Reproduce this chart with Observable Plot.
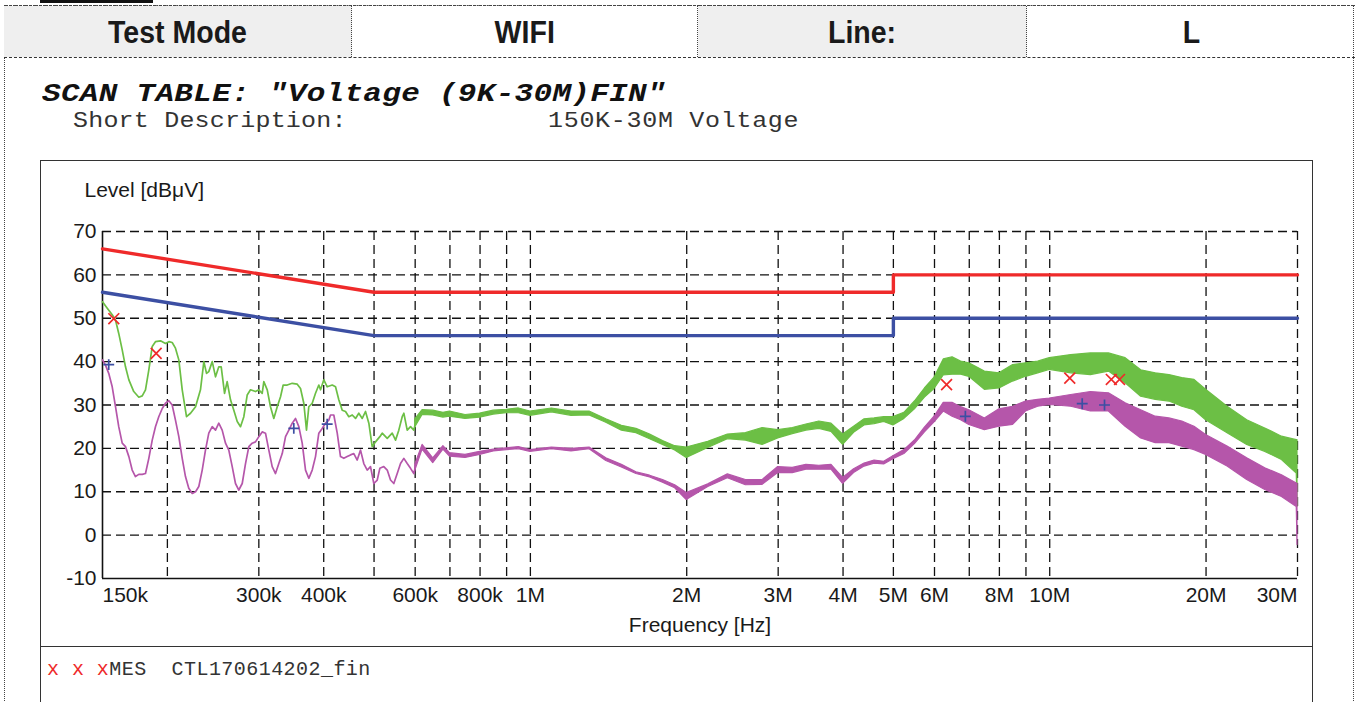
<!DOCTYPE html>
<html>
<head>
<meta charset="utf-8">
<script src="https://cdn.jsdelivr.net/npm/d3@7"></script>
<script src="https://cdn.jsdelivr.net/npm/@observablehq/plot@0.6"></script>
<style>
  body { margin:0; width:1360px; height:702px; overflow:hidden; background:#fff; position:relative;
         font-family:"Liberation Sans", Arial, sans-serif; color:#1a1a1a; }
  .abs { position:absolute; }
  #bar { left:40px; top:0; width:113px; height:3px; background:#111; }
  #frame { left:4px; top:5px; width:1350px; height:760px; border:1px dotted #444; box-sizing:border-box; }
  #hdr { left:4px; top:5px; width:1351px; height:53px; display:flex; border-top:1px dashed #444; border-bottom:1.5px dashed #333; box-sizing:border-box; }
  .cell { height:100%; display:flex; align-items:center; justify-content:center; font-weight:bold; font-size:31px;
          border-right:1px dotted #444; box-sizing:border-box; padding-top:3px; }
  .cell span { display:inline-block; transform:scaleX(0.92); }
  .gray { background:#efefef; }
  .mono { font-family:"Liberation Mono", "Courier New", monospace; white-space:pre; }
  /* baseline sits 23.8px below the top with font 31px / line-height 31px */
  #title { left:42px; top:76.7px; font-size:31px; line-height:31px; font-weight:bold; font-style:italic; letter-spacing:0.3px; color:#111;
           transform:scaleY(0.84); transform-origin:0 23.8px; }
  /* baseline sits 19.2px below the top with font 25px / line-height 25px */
  .desc { top:108.3px; font-size:25px; line-height:25px; color:#333; transform:scaleY(0.88); transform-origin:0 19.2px; }
  #d1 { left:73px; letter-spacing:0.2px; }
  #d2 { left:548px; letter-spacing:0.7px; }
  #box { left:40px; top:160px; width:1273px; height:600px; border:1.5px solid #333; box-sizing:border-box; }
  #sep { left:40px; top:646px; width:1273px; height:0; border-top:1.5px solid #333; }
  #plot { left:40px; top:160px; }
  #legend { left:47px; top:660px; font-size:20px; line-height:20px; letter-spacing:0.45px; color:#333; }
  #legend .x { color:#ee2a2a; }
</style>
</head>
<body>
<div id="bar" class="abs"></div>
<div id="frame" class="abs"></div>
<div id="hdr" class="abs">
  <div class="cell gray" style="width:348px"><span>Test Mode</span></div>
  <div class="cell" style="width:346px"><span>WIFI</span></div>
  <div class="cell gray" style="width:329px"><span>Line:</span></div>
  <div class="cell" style="width:328px;border-right:none"><span>L</span></div>
</div>
<div id="title" class="abs mono">SCAN TABLE: "Voltage (9K-30M)FIN"</div>
<div id="d1" class="abs mono desc">Short Description:</div>
<div id="d2" class="abs mono desc">150K-30M Voltage</div>
<div id="box" class="abs"></div>
<div id="sep" class="abs"></div>
<div id="plot" class="abs"></div>
<div id="legend" class="abs mono"><span class="x">x x x</span>MES  CTL170614202_fin</div>

<script>
// ---------- data (frequency in MHz, level in dBµV) ----------
const xGridF = [0.2,0.3,0.4,0.5,0.6,0.7,0.8,0.9,1,2,3,4,5,6,7,8,9,10,20,30];
const yGridV = [0,10,20,30,40,50,60,70];
const yTickV = [70,60,50,40,30,20,10,0,-10];
const xTickF = [0.15,0.3,0.4,0.6,0.8,1,2,3,4,5,6,8,10,20,30];
const xTickT = ["150k","300k","400k","600k","800k","1M","2M","3M","4M","5M","6M","8M","10M","20M","30M"];

// limit lines
const qpLimitF = [0.15, 0.5, 5, 5, 30];
const qpLimitV = [66, 56, 56, 60, 60];
const avLimitF = [0.15, 0.5, 5, 5, 30];
const avLimitV = [56, 46, 46, 50, 50];

// peak trace (green), low-frequency part
const greenLineF = [0.150,0.1532,0.1566,0.1589,0.1612,0.1637,0.1661,0.1686,0.1723,0.1762,0.1789,0.1815,0.1842,0.187,0.1897,0.194,0.1983,0.2013,0.2043,0.2073,0.2104,0.2136,0.2177,0.2216,0.2266,0.2316,0.2351,0.2379,0.2403,0.244,0.2476,0.2512,0.2539,0.2577,0.2607,0.2646,0.2685,0.2726,0.2766,0.2807,0.2849,0.2891,0.2956,0.300,0.3045,0.3067,0.3114,0.3159,0.3206,0.3255,0.3303,0.3342,0.3402,0.3479,0.3557,0.3609,0.3662,0.3706,0.3744,0.3801,0.3857,0.3914,0.3944,0.4002,0.4062,0.4154,0.4215,0.4277,0.4342,0.4406,0.4471,0.4539,0.4606,0.4673,0.4745,0.4814,0.4886,0.4959,0.5033,0.513,0.5184,0.5301,0.5419,0.550,0.558,0.5665,0.5706,0.5792,0.5878,0.5964,0.6];
const greenLineV = [53.8,52.3,50.8,49.6,46.5,42.7,38.8,35.8,33.1,31.8,32.1,33.5,38.1,43.5,44.6,44.8,44.2,44.6,44.4,43.1,40.4,33.5,27.3,28.1,29.6,33.5,40.0,37.3,37.7,40.0,36.5,38.8,38.8,32.7,35.4,31.2,28.8,26.2,25.0,27.3,32.3,33.5,33.1,33.5,32.7,35.4,33.5,29.6,26.9,29.6,31.9,34.6,34.6,35.0,34.8,33.8,30.4,24.2,29.6,30.4,32.7,34.6,33.5,35.8,34.2,34.6,34.2,31.2,28.8,28.5,27.3,27.7,26.9,28.1,26.9,28.5,25.8,20.4,21.5,22.7,23.5,22.3,23.5,21.9,24.2,27.3,28.1,24.2,25.0,24.2,25.5];

// average trace (purple), low-frequency part
const purpleLineF = [0.150,0.152,0.1542,0.1566,0.1589,0.1612,0.1637,0.1661,0.1686,0.1711,0.1736,0.1762,0.1789,0.1815,0.1842,0.187,0.1897,0.1925,0.1955,0.1983,0.2013,0.2043,0.2073,0.2104,0.2136,0.2167,0.2199,0.2233,0.2266,0.2299,0.2334,0.2368,0.2403,0.244,0.2476,0.2512,0.255,0.2588,0.2626,0.2666,0.2705,0.2745,0.2787,0.2828,0.287,0.2913,0.2956,0.300,0.3045,0.309,0.3136,0.3183,0.323,0.3278,0.3328,0.3377,0.3427,0.3479,0.353,0.3582,0.3636,0.369,0.3744,0.3801,0.3857,0.3914,0.3973,0.4032,0.4091,0.4122,0.4183,0.4247,0.4309,0.4373,0.4439,0.4505,0.4571,0.464,0.4709,0.4778,0.4851,0.4922,0.4995,0.5071,0.513,0.5221,0.5301,0.5379,0.5458,0.5541,0.5623,0.5706,0.5792,0.5878,0.5964,0.6];
const purpleLineV = [40.4,39.2,37.3,34.2,29.6,25.0,21.2,20.4,18.1,15.0,13.5,14.0,14.0,14.2,17.7,21.9,25.0,27.3,29.2,30.4,31.0,30.0,26.5,22.7,17.7,13.5,10.8,9.6,10.0,11.2,15.0,19.6,23.5,25.0,24.2,25.8,24.2,21.2,19.6,15.8,11.9,10.4,11.9,16.5,20.4,21.2,21.5,22.7,23.8,23.5,19.6,15.8,14.2,16.5,18.8,22.7,24.2,25.8,26.9,25.0,21.2,15.0,13.1,15.0,18.1,23.5,24.6,25.8,26.5,27.7,27.7,23.5,18.1,17.7,18.1,18.5,18.8,17.3,19.6,16.5,15.0,15.8,11.9,12.7,15.4,15.8,15.0,12.7,11.9,14.2,16.5,17.7,16.5,15.4,14.2,15.5];

// noisy part above 600 kHz: lower / upper envelope of each trace
const bandF = [0.6,0.62,0.65,0.68,0.7,0.75,0.8,0.85,0.9,0.95,1.0,1.1,1.2,1.3,1.4,1.5,1.6,1.7,1.8,1.9,2.0,2.2,2.4,2.6,2.8,3.0,3.2,3.4,3.6,3.8,4.0,4.2,4.4,4.6,4.8,5.0,5.25,5.5,5.75,6.0,6.25,6.5,6.75,7.0,7.5,8.0,8.5,9.0,9.5,10,11,12,13,14,15,16,17,18,19,20,22,24,26,28,29.9,30];
const greenLo  = [24.8,27.7,27.6,27.1,27.3,26.8,27.1,27.8,28.1,28.1,27.5,28.3,27.5,27.6,25.9,24.1,23.5,22.1,20.8,19.5,17.8,20.1,22.1,21.8,20.8,22.3,23.3,24.1,24.5,23.8,20.8,23.6,25.3,25.6,26.1,25.3,26.8,29,31.7,33.7,36.8,37,37,36.5,33.5,33.8,35.4,36.5,37.3,38.1,37.3,36.9,37.7,35,31.9,31.2,30.8,29.6,28.8,26.5,23.5,20.8,19.2,17.3,14.2,6.5];
const greenHi  = [26.7,28.8,28.7,28.2,28.5,27.7,28,28.7,28.9,29.2,28.5,29.2,28.5,28.5,26.7,25.2,24.5,23.2,21.7,20.5,20.2,21.5,23.2,23.5,24.7,24.2,24.7,25.5,26.2,25.7,23.2,25,26.7,26.9,27.2,27.2,28.2,30.8,33.8,36.3,40.5,41,40,39.6,37.7,37.3,39.2,39.6,40,40.8,41.5,41.9,41.9,40.8,38,37.3,36.9,36.2,35.8,33.5,29.6,26.5,24.6,22.7,21.9,21.9];
const purpleLo = [14.8,19.7,16.6,19.7,18.1,17.8,18.5,19.3,19.6,19.8,19.2,19.8,19.3,19.8,17.1,15.6,14.1,13.3,12.1,10.8,8.1,11.1,13.1,11.5,11.6,14.3,14.3,15.1,15.1,15.1,11.8,14.3,15.8,16.5,16.3,17.5,18.7,21,23.7,26,28.5,27.3,26.5,25.4,24.2,25,25.4,28.5,29.6,30,29.6,28.5,28.5,25,22.3,21.2,21.2,20.4,19.6,18.5,15.8,12.7,10.4,8.8,6.5,-2.3];
const purpleHi = [16.2,20.8,17.7,20.5,18.9,18.5,19.2,19.7,20,20.3,19.6,20.2,19.9,20.2,17.7,16.2,14.5,13.7,12.7,11.5,9.7,11.7,14,12.7,12.7,15.7,15.5,16.2,16,16.2,13.2,15.2,16.5,17.2,16.9,18.2,19.6,21.8,24.8,27.3,30.5,30.5,29.5,28.8,26.9,29,29.6,30.8,31.2,31.5,32.3,33,32.7,30.4,28.8,27.3,26.9,26.2,25,23.1,20.4,17.7,15.4,13.8,11.9,11.9];

// final measurements
const qpMarkF = [0.1577, 0.1903, 6.33, 10.93, 13.14, 13.63];
const qpMarkV = [49.9, 41.9, 34.7, 36.2, 35.9, 35.9];
const avMarkF = [0.1542, 0.3503, 0.4062, 6.88, 11.55, 12.75];
const avMarkV = [39.3, 24.6, 25.6, 27.4, 30.3, 30.0];

// ---------- drawing ----------
const GREEN = "#6cbf45", PURPLE = "#b556aa", RED = "#ef2a2a", BLUE = "#3c4fa3", INK = "#1a1a1a";
const pts = (F, V) => F.map((f, i) => ({f, v: V[i]}));
const band = (F, L, U) => F.map((f, i) => ({f, lo: L[i], hi: U[i]}));
const ticks = xTickF.map((f, i) => ({f, t: xTickT[i]}));
const gridStyle = {stroke: "#111", strokeWidth: 1.3, strokeDasharray: "9,5"};
const lab = {fill: INK, lineAnchor: "middle"};

const chart = Plot.plot({
  width: 1272, height: 487,
  marginLeft: 62, marginRight: 15, marginTop: 71, marginBottom: 69,
  x: {type: "log", domain: [0.15, 30], axis: null},
  y: {domain: [-10, 70], axis: null},
  style: {fontFamily: "'Liberation Sans', Arial, sans-serif", fontSize: "21px", color: INK, background: "transparent", overflow: "visible"},
  marks: [
    Plot.ruleX(xGridF, gridStyle),
    Plot.ruleY(yGridV, gridStyle),
    Plot.ruleX([0.15], {stroke: "#111", strokeWidth: 1.6}),
    Plot.ruleY([-10], {stroke: "#111", strokeWidth: 1.6}),
    Plot.areaY(band(bandF, greenLo, greenHi), {x: "f", y1: "lo", y2: "hi", fill: GREEN, stroke: GREEN, strokeWidth: 1.2}),
    Plot.line(pts(greenLineF, greenLineV), {x: "f", y: "v", stroke: GREEN, strokeWidth: 1.7}),
    Plot.areaY(band(bandF, purpleLo, purpleHi), {x: "f", y1: "lo", y2: "hi", fill: PURPLE, stroke: PURPLE, strokeWidth: 1.2}),
    Plot.line(pts(purpleLineF, purpleLineV), {x: "f", y: "v", stroke: PURPLE, strokeWidth: 1.7}),
    Plot.line(pts(qpLimitF, qpLimitV), {x: "f", y: "v", stroke: RED, strokeWidth: 3.4}),
    Plot.line(pts(avLimitF, avLimitV), {x: "f", y: "v", stroke: BLUE, strokeWidth: 3.4}),
    Plot.dot(pts(qpMarkF, qpMarkV), {x: "f", y: "v", symbol: "times", r: 5, stroke: RED, strokeWidth: 1.7}),
    Plot.dot(pts(avMarkF, avMarkV), {x: "f", y: "v", symbol: "plus", r: 3.6, stroke: BLUE, strokeWidth: 1.7}),
    // y tick labels
    Plot.text(yTickV, {x: () => 0.15, y: d => d, text: d => String(d), textAnchor: "end", dx: -6, ...lab}),
    // x tick labels
    Plot.text(ticks.slice(0, 1), {x: "f", text: "t", frameAnchor: "bottom", dy: 17, textAnchor: "start", ...lab}),
    Plot.text(ticks.slice(1, -1), {x: "f", text: "t", frameAnchor: "bottom", dy: 17, textAnchor: "middle", ...lab}),
    Plot.text(ticks.slice(-1), {x: "f", text: "t", frameAnchor: "bottom", dy: 17, textAnchor: "end", ...lab}),
    // axis titles
    Plot.text(["Level [dBμV]"], {frameAnchor: "top-left", text: d => d, dx: -18, dy: -41, textAnchor: "start", ...lab}),
    Plot.text(["Frequency [Hz]"], {frameAnchor: "bottom", text: d => d, dy: 47, ...lab})
  ]
});
document.getElementById("plot").appendChild(chart);
</script>
</body>
</html>
